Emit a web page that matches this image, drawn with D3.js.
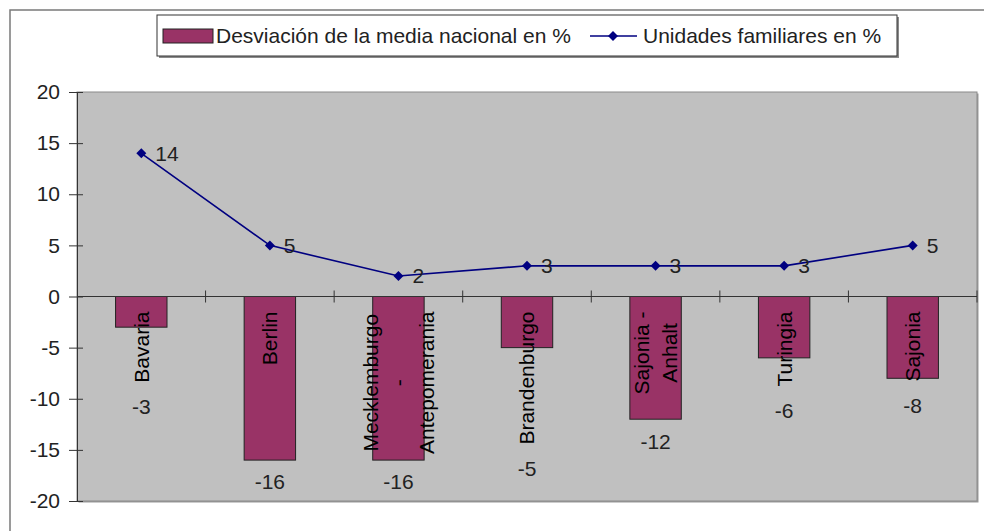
<!DOCTYPE html>
<html>
<head>
<meta charset="utf-8">
<script src="https://cdn.jsdelivr.net/npm/d3@7"></script>
<style>
    body { margin: 0; background: #fff; }
    svg { display: block; font-family: Arial, "Liberation Sans", sans-serif; }
</style>
</head>
<body>
<div id="chart"></div>
<script>
"use strict";

// Data
const categories = ["Bavaria", "Berlin", "Mecklemburgo\n-\nAntepomerania", "Brandenburgo", "Sajonia -\nAnhalt", "Turingia", "Sajonia"];
const deviation = [-3, -16, -16, -5, -12, -6, -8];
const households = [14, 5, 2, 3, 3, 3, 5];
const yTicks = [-20, -15, -10, -5, 0, 5, 10, 15, 20];
const seriesNames = ["Desviación de la media nacional en %", "Unidades familiares en %"];

function drawChart() {
    const width = 984, height = 531;
    const plot = { left: 77, top: 92, right: 977, bottom: 501 };
    const fontSize = 21;

    const svg = d3.select("#chart")
        .append("svg")
        .attr("width", width)
        .attr("height", height);

    // Outer chart border (runs off the picture on the right and bottom)
    svg.append("rect")
        .attr("x", 10).attr("y", 10)
        .attr("width", 1000).attr("height", 600)
        .attr("fill", "#fff")
        .attr("stroke", "#7a7a7a")
        .attr("stroke-width", 1.5);

    // Scales
    const x = d3.scaleBand().domain(d3.range(categories.length)).range([plot.left, plot.right]);
    const y = d3.scaleLinear().domain([-20, 20]).range([plot.bottom, plot.top]);
    const barW = x.bandwidth() * 0.4;
    const cx = i => x(i) + x.bandwidth() / 2;

    // Plot area with a small shadow
    svg.append("rect")
        .attr("x", plot.left + 1.5).attr("y", plot.top + 1.5)
        .attr("width", plot.right - plot.left).attr("height", plot.bottom - plot.top)
        .attr("fill", "#9a9a9a");
    svg.append("rect")
        .attr("x", plot.left).attr("y", plot.top)
        .attr("width", plot.right - plot.left).attr("height", plot.bottom - plot.top)
        .attr("fill", "#c0c0c0")
        .attr("stroke", "#8a8a8a")
        .attr("stroke-width", 1);

    // Y axis (plain hyphen for negatives, as in the original)
    const yAxis = svg.append("g")
        .attr("transform", `translate(${plot.left},0)`)
        .call(d3.axisLeft(y)
            .tickValues(yTicks)
            .tickFormat(d => String(d))
            .tickSizeInner(8).tickSizeOuter(0).tickPadding(9));
    yAxis.select(".domain").attr("stroke", "#333");
    yAxis.selectAll(".tick line").attr("x1", 6).attr("stroke", "#333");
    yAxis.selectAll(".tick text")
        .attr("font-size", fontSize)
        .attr("font-family", "Arial, 'Liberation Sans', sans-serif")
        .attr("fill", "#222");

    // Bars
    svg.selectAll(".bar")
        .data(deviation)
        .join("rect")
        .attr("class", "bar")
        .attr("x", (d, i) => cx(i) - barW / 2)
        .attr("y", d => y(Math.max(0, d)))
        .attr("width", barW)
        .attr("height", d => Math.abs(y(d) - y(0)))
        .attr("fill", "#993366")
        .attr("stroke", "#222")
        .attr("stroke-width", 1);

    // Category axis on the zero line, ticks on the category boundaries
    const zeroY = y(0);
    svg.append("line")
        .attr("x1", plot.left).attr("x2", plot.right)
        .attr("y1", zeroY).attr("y2", zeroY)
        .attr("stroke", "#333");
    const bounds = d3.range(categories.length).map(i => x(i)).concat([plot.right]);
    svg.selectAll(".cat-tick")
        .data(bounds.slice(1))
        .join("line")
        .attr("class", "cat-tick")
        .attr("x1", d => d).attr("x2", d => d)
        .attr("y1", zeroY - 6).attr("y2", zeroY + 6)
        .attr("stroke", "#333");

    // Category labels, rotated, top end just below the zero line
    const labelTop = zeroY + 15;
    const lineGap = 28;
    const labelBottoms = [];
    categories.forEach((name, i) => {
        const lines = name.split("\n");
        const g = svg.append("g");
        const texts = lines.map(ln => g.append("text")
            .text(ln)
            .attr("font-size", fontSize)
            .attr("fill", "#000")
            .attr("text-anchor", "middle")
            .attr("dy", "0.35em"));
        const maxLen = d3.max(texts, t => t.node().getComputedTextLength());
        const centerY = labelTop + maxLen / 2;
        texts.forEach((t, k) => {
            const off = (k - (lines.length - 1) / 2) * lineGap;
            t.attr("transform", `translate(${cx(i) + off},${centerY}) rotate(-90)`);
        });
        labelBottoms.push(labelTop + maxLen);
    });

    // Bar value labels, below the bar or below the category label
    svg.selectAll(".bar-label")
        .data(deviation)
        .join("text")
        .attr("class", "bar-label")
        .attr("x", (d, i) => cx(i))
        .attr("y", (d, i) => Math.max(y(d) + 22, labelBottoms[i] + 24))
        .attr("dy", "0.35em")
        .attr("text-anchor", "middle")
        .attr("font-size", fontSize)
        .attr("fill", "#222")
        .text(d => d);

    // Line series
    const line = d3.line().x((d, i) => cx(i)).y(d => y(d));
    svg.append("path")
        .datum(households)
        .attr("d", line)
        .attr("fill", "none")
        .attr("stroke", "#000080")
        .attr("stroke-width", 1.6);

    const diamond = (px, py, r) => `M${px},${py - r}L${px + r},${py}L${px},${py + r}L${px - r},${py}Z`;
    svg.selectAll(".marker")
        .data(households)
        .join("path")
        .attr("class", "marker")
        .attr("d", (d, i) => diamond(cx(i), y(d), 5))
        .attr("fill", "#000080");

    svg.selectAll(".line-label")
        .data(households)
        .join("text")
        .attr("class", "line-label")
        .attr("x", (d, i) => cx(i) + 14)
        .attr("y", d => y(d))
        .attr("dy", "0.35em")
        .attr("font-size", fontSize)
        .attr("fill", "#222")
        .text(d => d);

    // Legend
    const legend = svg.append("g");
    legend.append("rect")
        .attr("x", 159).attr("y", 17).attr("width", 740).attr("height", 41)
        .attr("fill", "#8a8a8a");
    legend.append("rect")
        .attr("x", 157).attr("y", 15).attr("width", 740).attr("height", 41)
        .attr("fill", "#fff")
        .attr("stroke", "#333")
        .attr("stroke-width", 1);
    legend.append("rect")
        .attr("x", 163).attr("y", 29).attr("width", 50).attr("height", 14)
        .attr("fill", "#993366")
        .attr("stroke", "#222");
    legend.append("text")
        .attr("x", 216).attr("y", 36).attr("dy", "0.35em")
        .attr("font-size", fontSize).attr("fill", "#222")
        .text(seriesNames[0]);
    legend.append("line")
        .attr("x1", 590).attr("x2", 637).attr("y1", 36).attr("y2", 36)
        .attr("stroke", "#000080").attr("stroke-width", 1.6);
    legend.append("path")
        .attr("d", diamond(613, 36, 5))
        .attr("fill", "#000080");
    legend.append("text")
        .attr("x", 643).attr("y", 36).attr("dy", "0.35em")
        .attr("font-size", fontSize).attr("fill", "#222")
        .text(seriesNames[1]);
}

drawChart();
</script>
</body>
</html>
